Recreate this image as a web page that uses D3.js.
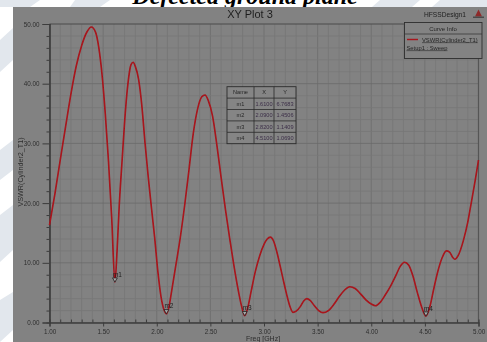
<!DOCTYPE html>
<html>
<head>
<meta charset="utf-8">
<script src="https://cdn.jsdelivr.net/npm/d3@7"></script>
<style>
  html, body { margin: 0; padding: 0; background: #fff; }
  svg { display: block; }
  text { font-family: Arial, "Liberation Sans", sans-serif; }
</style>
</head>
<body>
<svg id="chart" width="487" height="342"></svg>
<script>
// VSWR sweep of the cylinder feed (Freq in GHz)
const freq = [1.00, 1.05, 1.10, 1.15, 1.20, 1.25, 1.30, 1.35, 1.39, 1.43, 1.46, 1.49, 1.52, 1.55, 1.58, 1.61,
  1.63, 1.65, 1.68, 1.70, 1.73, 1.76, 1.78, 1.80, 1.83, 1.86, 1.89, 1.92, 1.95, 1.98, 2.01, 2.04, 2.07, 2.09,
  2.11, 2.14, 2.18, 2.22, 2.26, 2.30, 2.34, 2.38, 2.42, 2.45, 2.48, 2.52, 2.56, 2.60, 2.64, 2.68, 2.72, 2.76,
  2.79, 2.82, 2.85, 2.88, 2.92, 2.96, 3.00, 3.03, 3.06, 3.09, 3.12, 3.15, 3.18, 3.21, 3.24, 3.27, 3.30, 3.34,
  3.37, 3.40, 3.43, 3.47, 3.51, 3.55, 3.60, 3.65, 3.70, 3.75, 3.80, 3.85, 3.90, 3.95, 4.00, 4.04, 4.08, 4.13,
  4.18, 4.23, 4.27, 4.31, 4.35, 4.39, 4.43, 4.47, 4.51, 4.55, 4.58, 4.62, 4.66, 4.70, 4.73, 4.76, 4.78, 4.81,
  4.86, 4.90, 4.93, 4.97, 5.00];
const vswr = [16.3, 21.5, 27.2, 32.8, 38.3, 43.0, 46.4, 48.7, 49.5, 48.6, 46.0, 41.5, 35.0, 27.0, 17.5, 6.7683,
  12.0, 19.5, 28.0, 33.5, 39.8, 43.2, 43.6, 42.9, 40.8, 36.5, 30.2, 24.5, 19.3, 14.3, 8.6, 4.3, 2.0, 1.4506,
  2.3, 5.4, 9.8, 14.3, 19.6, 25.5, 31.6, 35.7, 37.8, 38.1, 37.2, 34.6, 29.8, 24.3, 19.0, 14.1, 9.5, 5.4,
  2.8, 1.1409, 2.6, 5.2, 8.6, 11.2, 13.1, 14.0, 14.3, 13.6, 11.8, 9.5, 7.1, 4.8, 2.8, 1.7, 1.9, 2.7,
  3.6, 4.0, 3.7, 2.8, 2.0, 1.65, 2.0, 3.0, 4.3, 5.4, 6.0, 5.7, 4.8, 3.8, 3.1, 2.8, 3.3, 4.6,
  6.1, 7.9, 9.4, 10.1, 9.6, 7.7, 5.0, 2.6, 1.0690, 2.9, 5.4, 8.5, 10.8, 12.0, 11.8, 10.9, 10.6, 11.2,
  13.8, 16.8, 19.8, 23.9, 27.2];

// Marker table entries
const markerNames = ["m1", "m2", "m3", "m4"];
const markerX = [1.6100, 2.0900, 2.8200, 4.5100];
const markerY = [6.7683, 1.4506, 1.1409, 1.0690];

// Axis ticks
const xTicks = [1.0, 1.5, 2.0, 2.5, 3.0, 3.5, 4.0, 4.5, 5.0];
const yTicks = [0, 10, 20, 30, 40, 50];

const svg = d3.select("#chart");
const W = 487, H = 342;

const defs = svg.append("defs");
defs.append("filter").attr("id", "soft")
  .attr("x", "-5%").attr("y", "-5%").attr("width", "110%").attr("height", "110%")
  .append("feGaussianBlur").attr("stdDeviation", 0.45);

// page background with faint diagonal bands
svg.append("rect").attr("width", W).attr("height", H).attr("fill", "#ffffff");
const bands = [
  "M0,40 L13,28 L13,60 L0,72 Z",
  "M0,150 L13,140 L13,170 L0,180 Z",
  "M0,215 L13,205 L13,250 L0,262 Z",
  "M0,300 L13,292 L13,330 L0,342 Z",
  "M0,0 L40,0 L30,7 L0,7 Z",
  "M75,0 L110,0 L100,7 L70,7 Z",
  "M380,0 L420,0 L412,7 L372,7 Z",
  "M440,0 L487,0 L487,7 L432,7 Z"
];
svg.append("g").selectAll("path").data(bands).join("path")
  .attr("d", d => d).attr("fill", "#e2e7ed");

// heading above the plot panel
svg.append("text")
  .attr("x", 245).attr("y", 4)
  .attr("text-anchor", "middle")
  .style("font-family", "'Liberation Serif', 'DejaVu Serif', serif")
  .style("font-weight", "bold").style("font-style", "italic")
  .style("font-size", "24px").attr("fill", "#000")
  .text("Defected ground plane");

const root = svg.append("g").attr("filter", "url(#soft)");

// gray plot panel
root.append("rect").attr("x", 13).attr("y", 7).attr("width", W - 13).attr("height", H - 7)
  .attr("fill", "#828282");

const x = d3.scaleLinear().domain([1, 5]).range([49.5, 478.5]);
const y = d3.scaleLinear().domain([0, 50]).range([322.5, 24]);

// grid
const grid = root.append("g");
const vMinor = d3.range(10, 51).map(d => d / 10);
grid.selectAll("line.v").data(vMinor).join("line")
  .attr("x1", d => x(d)).attr("x2", d => x(d))
  .attr("y1", y(50)).attr("y2", y(0))
  .attr("stroke", d => (Math.round(d * 10) % 5 === 0) ? "#6c6c6c" : "#767676")
  .attr("stroke-width", 0.8);
const hMinor = d3.range(0, 51, 2);
grid.selectAll("line.h").data(hMinor).join("line")
  .attr("x1", x(1)).attr("x2", x(5))
  .attr("y1", d => y(d)).attr("y2", d => y(d))
  .attr("stroke", d => (d % 10 === 0) ? "#6a6a6a" : "#777777")
  .attr("stroke-width", 0.8);

// frame (top and right)
root.append("line").attr("x1", x(1)).attr("x2", x(5)).attr("y1", y(50)).attr("y2", y(50))
  .attr("stroke", "#555").attr("stroke-width", 1.2);
root.append("line").attr("x1", x(5)).attr("x2", x(5)).attr("y1", y(50)).attr("y2", y(0))
  .attr("stroke", "#555").attr("stroke-width", 1.2);

// axes
const xAxis = root.append("g").attr("transform", `translate(0,${y(0)})`)
  .call(d3.axisBottom(x).tickValues(xTicks).tickFormat(d3.format(".2f")).tickSize(4).tickPadding(3));
const xMinorAxis = root.append("g").attr("transform", `translate(0,${y(0)})`)
  .call(d3.axisTop(x).tickValues(vMinor.filter(d => Math.round(d * 10) % 5 !== 0)).tickSize(3).tickFormat(""));
const yAxis = root.append("g").attr("transform", `translate(${x(1)},0)`)
  .call(d3.axisLeft(y).tickValues(yTicks).tickFormat(d3.format(".2f")).tickSize(7).tickPadding(3));
const yMinorAxis = root.append("g").attr("transform", `translate(${x(1)},0)`)
  .call(d3.axisLeft(y).tickValues(hMinor.filter(d => d % 10 !== 0)).tickSize(3).tickFormat(""));

[xAxis, xMinorAxis, yAxis, yMinorAxis].forEach(g => {
  g.select(".domain").attr("stroke", "#3c3c3c").attr("stroke-width", 1.2);
  g.selectAll(".tick line").attr("stroke", "#3c3c3c").attr("stroke-width", 1);
  g.selectAll(".tick text").attr("fill", "#2e2e2e").style("font-size", "6.3px");
});

// axis titles
root.append("text").attr("x", 263).attr("y", 340.5).attr("text-anchor", "middle")
  .attr("fill", "#2e2e2e").style("font-size", "7px").text("Freq [GHz]");
root.append("text").attr("transform", "translate(22.5,172) rotate(-90)").attr("text-anchor", "middle")
  .attr("fill", "#2e2e2e").style("font-size", "7.2px").text("VSWR(Cylinder2_T1)");

// plot title and design name
root.append("text").attr("x", 250).attr("y", 18).attr("text-anchor", "middle")
  .attr("fill", "#1e1e1e").style("font-size", "11px").text("XY Plot 3");
root.append("text").attr("x", 424).attr("y", 17).attr("fill", "#1e1e1e")
  .attr("textLength", 42).attr("lengthAdjust", "spacingAndGlyphs")
  .style("font-size", "7.8px").text("HFSSDesign1");
// small logo glyph
root.append("path").attr("d", "M478.5,9.5 L482,16.5 L475,16.5 Z").attr("fill", "#8e2a2a");
root.append("path").attr("d", "M473,16.5 L484,16.5 L484,18 L473,18 Z").attr("fill", "#4a4a4a");

// curve
const pts = freq.map((f, i) => [f, vswr[i]]);
const line = d3.line().x(d => x(d[0])).y(d => y(d[1])).curve(d3.curveMonotoneX);
root.append("path").datum(pts).attr("d", line)
  .attr("fill", "none").attr("stroke", "#a8121a").attr("stroke-width", 1.6);

// markers
const mk = root.append("g");
markerNames.forEach((n, i) => {
  const px = x(markerX[i]), py = y(markerY[i]);
  mk.append("path").attr("d", `M${px - 2.4},${py - 4.2} L${px + 2.4},${py - 4.2} L${px},${py} Z`)
    .attr("fill", "#a9a9a9").attr("stroke", "#222").attr("stroke-width", 0.8);
  mk.append("text").attr("x", px - 2).attr("y", py - 5.5).attr("fill", "#1e1e1e")
    .style("font-size", "6.5px").text(n);
});

// marker table
const tbl = root.append("g");
const tx0 = 227, tx1 = 296, ty0 = 86.7, rowH = 11.4;
const colX = [227, 254, 274, 296];
const nRows = markerNames.length + 1;
tbl.append("rect").attr("x", tx0).attr("y", ty0).attr("width", tx1 - tx0).attr("height", rowH * nRows)
  .attr("fill", "#858585").attr("stroke", "#2a2a2a").attr("stroke-width", 0.9);
d3.range(1, nRows).forEach(r => {
  tbl.append("line").attr("x1", tx0).attr("x2", tx1).attr("y1", ty0 + r * rowH).attr("y2", ty0 + r * rowH)
    .attr("stroke", "#2a2a2a").attr("stroke-width", 0.8);
});
[colX[1], colX[2]].forEach(cx => {
  tbl.append("line").attr("x1", cx).attr("x2", cx).attr("y1", ty0).attr("y2", ty0 + rowH * nRows)
    .attr("stroke", "#2a2a2a").attr("stroke-width", 0.8);
});
const header = ["Name", "X", "Y"];
const cellRows = [header].concat(markerNames.map((n, i) =>
  [n, markerX[i].toFixed(4), markerY[i].toFixed(4)]));
cellRows.forEach((row, r) => {
  row.forEach((t, c) => {
    tbl.append("text").attr("x", (colX[c] + colX[c + 1]) / 2).attr("y", ty0 + r * rowH + rowH / 2 + 2)
      .attr("text-anchor", "middle")
      .attr("fill", (r > 0 && c > 0) ? "#3c2f48" : "#262626")
      .style("font-size", "5.6px").text(t);
  });
});

// curve info legend
const lg = root.append("g");
lg.append("rect").attr("x", 404.5).attr("y", 22.5).attr("width", 77.5).attr("height", 36)
  .attr("fill", "#838383").attr("stroke", "#2e2e2e").attr("stroke-width", 0.9);
lg.append("text").attr("x", 443).attr("y", 31).attr("text-anchor", "middle")
  .attr("fill", "#262626").style("font-size", "6px").text("Curve Info");
lg.append("line").attr("x1", 405).attr("x2", 482).attr("y1", 34).attr("y2", 34)
  .attr("stroke", "#2e2e2e").attr("stroke-width", 0.7);
lg.append("line").attr("x1", 407).attr("x2", 418).attr("y1", 39.5).attr("y2", 39.5)
  .attr("stroke", "#a8121a").attr("stroke-width", 1.4);
lg.append("text").attr("x", 422).attr("y", 41.5).attr("fill", "#262626")
  .style("font-size", "5.8px").style("text-decoration", "underline").text("VSWR(Cylinder2_T1)");
lg.append("text").attr("x", 406.5).attr("y", 49.5).attr("fill", "#262626")
  .style("font-size", "5.8px").style("text-decoration", "underline").text("Setup1 : Sweep");
</script>
</body>
</html>
